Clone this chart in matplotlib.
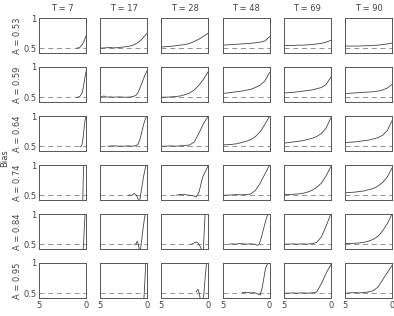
import numpy as np
import matplotlib
matplotlib.use("Agg")
import matplotlib.pyplot as plt

T_vals = [7, 17, 28, 48, 69, 90]
A_vals = [0.53, 0.59, 0.64, 0.74, 0.84, 0.95]

grid = [5, 4.5, 4, 3.5, 3, 2.5, 2, 1.5, 1, 0.5, 0]

# each row: one (x, bias) pair per T
row_053 = [
    ([1.0, 0.8, 0.6, 0.4, 0.2, 0.0], [0.50, 0.505, 0.52, 0.56, 0.62, 0.70]),
    (grid, [0.50, 0.505, 0.51, 0.505, 0.51, 0.52, 0.53, 0.55, 0.59, 0.66, 0.75]),
    (grid, [0.52, 0.525, 0.53, 0.54, 0.55, 0.56, 0.58, 0.61, 0.65, 0.70, 0.75]),
    (grid, [0.55, 0.555, 0.56, 0.565, 0.57, 0.575, 0.58, 0.59, 0.60, 0.62, 0.69]),
    (grid, [0.54, 0.545, 0.545, 0.55, 0.55, 0.555, 0.56, 0.57, 0.58, 0.60, 0.63]),
    (grid, [0.535, 0.535, 0.535, 0.535, 0.54, 0.54, 0.545, 0.55, 0.56, 0.57, 0.585]),
]
row_059 = [
    ([1.0, 0.8, 0.6, 0.4, 0.3, 0.2, 0.1, 0.0], [0.50, 0.50, 0.52, 0.58, 0.65, 0.74, 0.84, 0.92]),
    ([5, 4.8, 4.6, 4.4, 4.2, 4, 3.5, 3, 2.5, 2, 1.5, 1.2, 1.0, 0.8, 0.6, 0.4, 0.2, 0.0],
     [0.50, 0.51, 0.52, 0.505, 0.50, 0.505, 0.50, 0.505, 0.50, 0.50, 0.51, 0.53, 0.57, 0.64, 0.72, 0.80, 0.88, 0.94]),
    (grid, [0.50, 0.50, 0.505, 0.51, 0.52, 0.54, 0.57, 0.62, 0.70, 0.80, 0.93]),
    (grid, [0.56, 0.57, 0.58, 0.59, 0.60, 0.615, 0.63, 0.66, 0.70, 0.77, 0.91]),
    (grid, [0.57, 0.575, 0.58, 0.59, 0.60, 0.61, 0.62, 0.64, 0.66, 0.71, 0.83]),
    (grid, [0.56, 0.565, 0.57, 0.575, 0.58, 0.585, 0.59, 0.60, 0.62, 0.65, 0.71]),
]
row_064 = [
    ([0.6, 0.5, 0.4, 0.3, 0.2, 0.1, 0.0], [0.49, 0.50, 0.54, 0.65, 0.80, 0.93, 1.0]),
    ([4.2, 3.5, 3, 2.5, 2, 1.5, 1.2, 1.0, 0.8, 0.6, 0.4, 0.2, 0.1, 0.0],
     [0.50, 0.505, 0.50, 0.50, 0.505, 0.50, 0.51, 0.53, 0.60, 0.72, 0.85, 0.95, 0.98, 1.0]),
    (grid, [0.50, 0.50, 0.505, 0.50, 0.505, 0.51, 0.52, 0.57, 0.72, 0.88, 1.0]),
    (grid, [0.52, 0.525, 0.53, 0.54, 0.56, 0.58, 0.61, 0.66, 0.74, 0.86, 1.0]),
    (grid, [0.55, 0.56, 0.57, 0.58, 0.59, 0.61, 0.63, 0.66, 0.71, 0.80, 0.97]),
    (grid, [0.56, 0.565, 0.57, 0.58, 0.59, 0.60, 0.62, 0.64, 0.68, 0.76, 0.92]),
]
row_074 = [
    ([0.35, 0.3, 0.25], [0.40, 0.70, 1.0]),
    ([2.0, 1.6, 1.4, 1.2, 1.0, 0.9, 0.8, 0.6, 0.4, 0.2, 0.1],
     [0.50, 0.50, 0.53, 0.51, 0.45, 0.40, 0.41, 0.60, 0.80, 0.95, 1.0]),
    ([3.4, 3, 2.6, 2.2, 2.0, 1.6, 1.3, 1.0, 0.8, 0.6, 0.4, 0.2, 0.0],
     [0.50, 0.51, 0.515, 0.50, 0.50, 0.49, 0.47, 0.55, 0.68, 0.80, 0.87, 0.93, 1.0]),
    (grid, [0.50, 0.50, 0.505, 0.51, 0.505, 0.51, 0.52, 0.58, 0.70, 0.85, 1.0]),
    (grid, [0.51, 0.51, 0.515, 0.52, 0.53, 0.55, 0.58, 0.63, 0.70, 0.82, 0.97]),
    (grid, [0.54, 0.545, 0.55, 0.56, 0.57, 0.59, 0.61, 0.65, 0.71, 0.80, 0.95]),
]
row_084 = [
    ([0.3, 0.2, 0.1], [0.40, 0.70, 1.0]),
    ([1.4, 1.2, 1.06, 0.95, 0.85, 0.75, 0.6, 0.45, 0.3, 0.2],
     [0.50, 0.50, 0.55, 0.50, 0.42, 0.38, 0.55, 0.75, 0.92, 1.0]),
    ([1.8, 1.5, 1.3, 1.1, 0.9, 0.7, 0.55, 0.45, 0.35],
     [0.50, 0.52, 0.535, 0.52, 0.47, 0.40, 0.35, 0.70, 1.0]),
    ([4.3, 4, 3.6, 3.2, 2.8, 2.4, 2.0, 1.6, 1.3, 1.1, 0.9, 0.7, 0.5, 0.3, 0.15],
     [0.50, 0.505, 0.50, 0.51, 0.505, 0.50, 0.505, 0.50, 0.48, 0.50, 0.60, 0.72, 0.84, 0.95, 1.0]),
    (grid, [0.50, 0.50, 0.505, 0.50, 0.505, 0.50, 0.51, 0.53, 0.62, 0.80, 1.0]),
    (grid, [0.51, 0.51, 0.515, 0.52, 0.53, 0.55, 0.58, 0.63, 0.72, 0.84, 1.0]),
]
row_095 = [
    ([], []),
    ([0.35, 0.25, 0.15], [0.40, 0.70, 1.0]),
    ([1.3, 1.15, 1.05, 0.95, 0.85, 0.7, 0.5, 0.35, 0.2],
     [0.52, 0.56, 0.55, 0.47, 0.40, 0.30, 0.45, 0.75, 1.0]),
    ([2.9, 2.6, 2.3, 2.0, 1.7, 1.4, 1.2, 1.0, 0.8, 0.6, 0.45, 0.3, 0.15],
     [0.51, 0.515, 0.51, 0.505, 0.51, 0.50, 0.48, 0.47, 0.58, 0.76, 0.90, 0.96, 1.0]),
    (grid, [0.50, 0.50, 0.505, 0.50, 0.505, 0.50, 0.505, 0.52, 0.66, 0.83, 0.97]),
    (grid, [0.50, 0.505, 0.51, 0.505, 0.51, 0.52, 0.54, 0.60, 0.72, 0.84, 0.96]),
]
rows = [row_053, row_059, row_064, row_074, row_084, row_095]

W, H = 394, 316
fig = plt.figure(figsize=(W / 100, H / 100), dpi=100)
txt = '#444444'

for r, row in enumerate(rows):
    for c, (xs, ys) in enumerate(row):
        left = 39 + 61.2 * c
        top = 18 + 49 * r
        ax = fig.add_axes([left / W, 1 - (top + 35) / H, 47 / W, 35 / H])
        ax.axhline(0.5, color='#808080', lw=0.6, dashes=(6, 4.5))
        ax.plot(xs, ys, color='#444444', lw=0.6)
        ax.set_xlim(5, 0)
        ax.set_ylim(0.42, 1)
        for s in ax.spines.values():
            s.set_color('#555555')
            s.set_linewidth(0.7)
        ax.tick_params(length=0, labelsize=6, colors=txt, pad=2)
        if c == 0:
            ax.set_yticks([0.5, 1])
            ax.set_yticklabels(['0.5', '1'])
            ax.set_ylabel('A = %s' % A_vals[r], fontsize=6, color=txt, labelpad=0.5)
        else:
            ax.set_yticks([])
        if r == len(rows) - 1:
            ax.set_xticks([5, 0])
            ax.set_xticklabels(['5', '0'])
        else:
            ax.set_xticks([])
        if r == 0:
            ax.set_title('T = %d' % T_vals[c], fontsize=6, color=txt, pad=5)

fig.text(5 / W, 1 - 158 / H, 'Bias', rotation=90, fontsize=6, color=txt,
         ha='center', va='center')

fig.savefig('out.png', dpi=100)
